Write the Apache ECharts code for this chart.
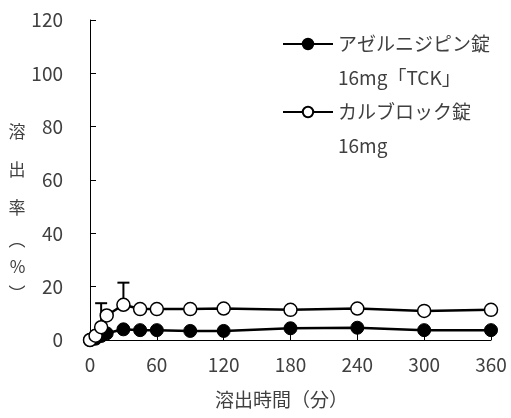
<!DOCTYPE html>
<html>
<head>
<meta charset="utf-8">
<script src="https://cdn.jsdelivr.net/npm/echarts@6/dist/echarts.min.js"></script>
<style>html,body{margin:0;padding:0;background:#fff;}#c{width:511px;height:418px;}</style>
</head>
<body>
<div id="c"></div>
<script>
var times = [0, 5, 10, 15, 30, 45, 60, 90, 120, 180, 240, 300, 360];
var azelnidipine = [0, 0.5, 1.5, 2.5, 4.0, 3.7, 3.7, 3.4, 3.4, 4.4, 4.6, 3.7, 3.7];
var calblock = [0, 1.6, 4.8, 9.2, 13.2, 11.6, 11.6, 11.6, 11.8, 11.3, 11.8, 10.9, 11.3];
var calblockErrTimes = [10, 30];
var calblockErrValues = [9.0, 8.3];
var xTicks = [0, 60, 120, 180, 240, 300, 360];
var yTicks = [0, 20, 40, 60, 80, 100, 120];
var name1 = 'アゼルニジピン錠\n16mg「TCK」';
var name2 = 'カルブロック錠\n16mg';

var FONT = '"Noto Sans CJK JP", "Noto Sans", sans-serif';
var TXT = '#404040';
function pairs(vals) { return times.map(function (t, i) { return [t, vals[i]]; }); }
var errData = calblockErrTimes.map(function (t, i) {
  return [t, calblock[times.indexOf(t)], calblockErrValues[i]];
});

var chart = echarts.init(document.getElementById('c'));
var legendCommon = {
  left: 282, orient: 'vertical', padding: 0, itemWidth: 50, itemHeight: 13, itemGap: 0,
  selectedMode: false,
  formatter: function (n) { return ' \n' + n; },
  textStyle: { fontFamily: FONT, fontSize: 19, color: TXT, lineHeight: 34 }
};
chart.setOption({
  animation: false,
  backgroundColor: '#fff',
  grid: { left: 90, right: 20, top: 20, bottom: 78 },
  legend: [
    Object.assign({}, legendCommon, { top: -7, data: [name1] }),
    Object.assign({}, legendCommon, { top: 61, data: [name2] })
  ],
  xAxis: {
    type: 'value', min: xTicks[0], max: xTicks[xTicks.length - 1], interval: 60,
    axisLine: { lineStyle: { color: '#000', width: 1 } },
    axisTick: { inside: true, length: 6, lineStyle: { color: '#000' } },
    axisLabel: { fontFamily: FONT, fontSize: 19, color: TXT, margin: 15 },
    splitLine: { show: false },
    name: '溶出時間（分）', nameLocation: 'middle', nameGap: 50,
    nameTextStyle: { fontFamily: FONT, fontSize: 19, color: TXT, padding: [0, 18, 0, 0] }
  },
  yAxis: {
    type: 'value', min: yTicks[0], max: yTicks[yTicks.length - 1], interval: 20,
    axisLine: { show: true, lineStyle: { color: '#000', width: 1 } },
    axisTick: { show: true, inside: true, length: 6, lineStyle: { color: '#000' } },
    axisLabel: { fontFamily: FONT, fontSize: 19, color: TXT, margin: 27 },
    splitLine: { show: false },
    name: '{k|溶}\n{k|出}\n{k|率}\n{p|︵}\n{p|%}\n{p|︶}',
    nameLocation: 'middle', nameRotate: 0, nameGap: 61,
    nameTextStyle: {
      fontFamily: FONT, fontSize: 17, color: TXT, padding: [60, 0, 0, 0],
      rich: {
        k: { fontFamily: FONT, fontSize: 17, color: TXT, lineHeight: 38 },
        p: { fontFamily: FONT, fontSize: 17, color: TXT, lineHeight: 27 }
      }
    }
  },
  series: [
    {
      type: 'custom', name: 'err', z: 1, silent: true,
      renderItem: function (params, api) {
        var x = api.value(0), v = api.value(1), e = api.value(2);
        var p0 = api.coord([x, v]), p1 = api.coord([x, v + e]);
        var w = 6;
        return {
          type: 'group',
          children: [
            { type: 'line', shape: { x1: p0[0], y1: p0[1], x2: p1[0], y2: p1[1] }, style: { stroke: '#000', lineWidth: 2 } },
            { type: 'line', shape: { x1: p1[0] - w, y1: p1[1], x2: p1[0] + w, y2: p1[1] }, style: { stroke: '#000', lineWidth: 2 } }
          ]
        };
      },
      data: errData
    },
    {
      type: 'line', name: name1, z: 2, data: pairs(azelnidipine),
      symbol: 'circle', symbolSize: 13, showAllSymbol: true,
      lineStyle: { color: '#000', width: 2.5 },
      itemStyle: { color: '#000', borderColor: '#000', borderWidth: 1 }
    },
    {
      type: 'line', name: name2, z: 3, data: pairs(calblock),
      symbol: 'circle', symbolSize: 13, showAllSymbol: true,
      lineStyle: { color: '#000', width: 2.5 },
      itemStyle: { color: '#fff', borderColor: '#000', borderWidth: 1.5 }
    }
  ]
});
</script>
</body>
</html>
